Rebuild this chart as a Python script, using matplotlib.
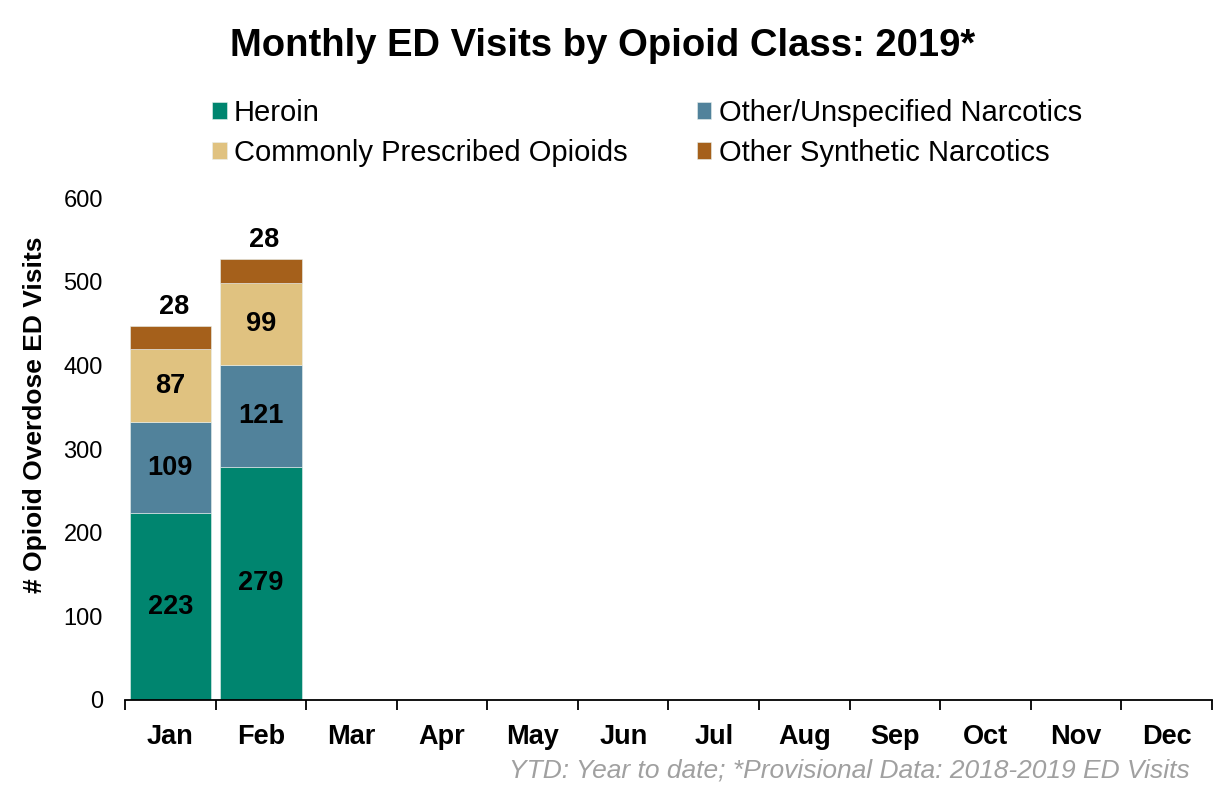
import matplotlib
matplotlib.use("Agg")
import matplotlib.pyplot as plt
import numpy as np

months = ["Jan", "Feb", "Mar", "Apr", "May", "Jun", "Jul", "Aug", "Sep", "Oct", "Nov", "Dec"]
heroin = [223, 279]
other_unspecified = [109, 121]
commonly_prescribed = [87, 99]
other_synthetic = [28, 28]

series = [
    ("Heroin", heroin, "#00856F"),
    ("Other/Unspecified Narcotics", other_unspecified, "#51829B"),
    ("Commonly Prescribed Opioids", commonly_prescribed, "#E0C280"),
    ("Other Synthetic Narcotics", other_synthetic, "#A5601B"),
]

plt.rcParams["font.family"] = ["Liberation Sans", "DejaVu Sans"]

fig = plt.figure(figsize=(12.15, 7.88), dpi=100)
ax = fig.add_axes([0.1029, 0.1117, 0.8946, 0.637])

x = np.arange(len(heroin))
bottom = np.zeros(len(heroin))
handles = {}
for name, vals, color in series:
    vals = np.array(vals, dtype=float)
    bars = ax.bar(x, vals, width=0.9, bottom=bottom, color=color,
                  edgecolor="#e8f0ee", linewidth=0.4, label=name)
    handles[name] = bars
    for xi, b, v in zip(x, bottom, vals):
        if name == "Other Synthetic Narcotics":
            # top segment is labelled above the bar
            ax.text(xi + 0.04, b + v + 7, f"{int(v)}", ha="center", va="bottom",
                    fontsize=19.5, fontweight="bold")
        else:
            ax.text(xi, b + v / 2, f"{int(v)}", ha="center", va="center",
                    fontsize=19.5, fontweight="bold")
    bottom += vals

ax.set_xlim(-0.5, len(months) - 0.5)
ax.set_ylim(0, 600)
ax.set_yticks(range(0, 601, 100))
ax.tick_params(axis="y", length=0, labelsize=17, pad=16)
ax.set_xticks(np.arange(len(months)))
ax.set_xticklabels(months, fontsize=19.5, fontweight="bold")
ax.set_xticks(np.arange(len(months) + 1) - 0.5, minor=True)
ax.tick_params(axis="x", which="major", length=0, pad=17)
ax.tick_params(axis="x", which="minor", length=7, width=1.3, direction="out")
for side in ["top", "right", "left"]:
    ax.spines[side].set_visible(False)
ax.spines["bottom"].set_linewidth(1.3)

ax.set_ylabel("# Opioid Overdose ED Visits", fontsize=19, fontweight="bold")
ax.yaxis.set_label_coords(-0.072, 0.568)

fig.text(0.496, 0.942, "Monthly ED Visits by Opioid Class: 2019*", ha="center", va="center",
         fontsize=27.5, fontweight="bold")

order = ["Heroin", "Commonly Prescribed Opioids", "Other/Unspecified Narcotics", "Other Synthetic Narcotics"]
leg = fig.legend([handles[n] for n in order], order, loc="upper left",
                 bbox_to_anchor=(0.1745, 0.8745), ncol=2, frameon=False, fontsize=21,
                 handlelength=0.5, handleheight=0.5, handletextpad=0.25, borderpad=0,
                 borderaxespad=0, columnspacing=2.37, labelspacing=0.42)

fig.text(0.979, 0.022, "YTD: Year to date; *Provisional Data: 2018-2019 ED Visits", ha="right",
         va="center", fontsize=19, style="italic", color="#a0a0a0")

fig.savefig("out.png", dpi=100)
